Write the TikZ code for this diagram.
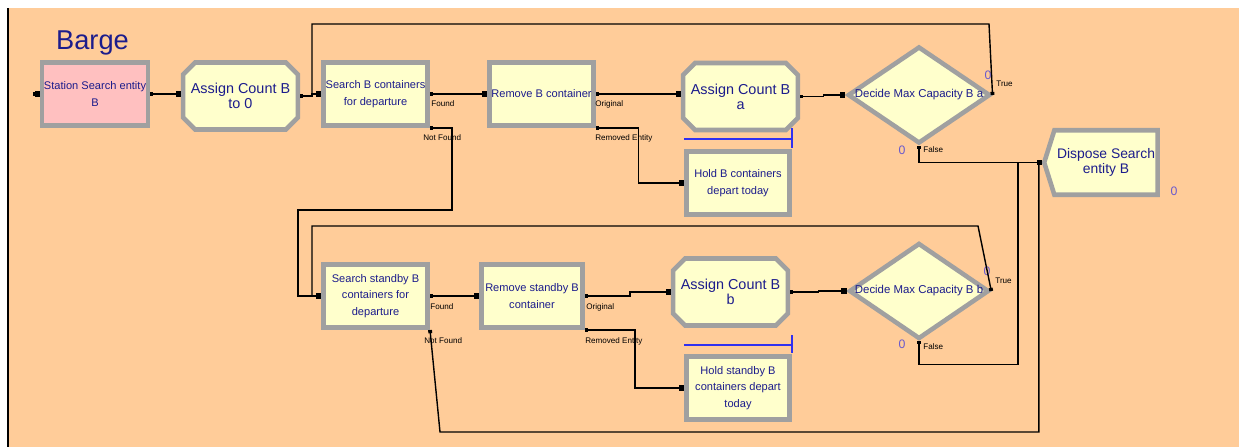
\documentclass[tikz,border=0pt]{standalone}
\usepackage{fontspec}
\setmainfont{Liberation Sans}
\usetikzlibrary{arrows.meta,shapes.geometric,shapes.misc,shapes.symbols,calc}
\definecolor{peach}{HTML}{FFCC99}
\definecolor{cream}{HTML}{FFFFCC}
\definecolor{rose}{HTML}{FFC0C0}
\definecolor{bevel}{HTML}{A0A0A0}
\definecolor{navy}{HTML}{1C1C8C}
\definecolor{cntc}{HTML}{6A5ACD}
\definecolor{queue}{HTML}{3030F0}

\begin{document}
\begin{tikzpicture}[x=0.02cm,y=-0.02cm,
  mod/.style={draw=bevel,line width=2.6pt,fill=cream,text=navy,align=center,inner sep=1pt,
              font=\fontsize{6.3}{9.4}\selectfont},
  proc/.style={mod,rectangle,minimum width=2.09cm,minimum height=1.27cm},
  asg/.style={mod,chamfered rectangle,chamfered rectangle xsep=0.12cm,
              chamfered rectangle ysep=0.12cm,minimum width=2.17cm,minimum height=1.34cm,
              font=\fontsize{8.2}{8.6}\selectfont},
  dec/.style={mod,diamond,minimum width=2.85cm,minimum height=1.94cm,inner sep=0pt},
  dtxt/.style={text=navy,font=\fontsize{6.5}{7}\selectfont,inner sep=0pt},
  port/.style={font=\fontsize{4.6}{5}\selectfont,text=black,inner sep=0pt,anchor=west},
  cnt/.style={font=\fontsize{7}{8}\selectfont,text=cntc,inner sep=0pt},
  conn/.style={line width=0.8pt,black,
               arrows={Square[length=1.8pt,width=2.2pt]-Square[length=3pt,width=3pt]}},
  que/.style={line width=0.9pt,queue}]
\useasboundingbox (0,0) rectangle (1239,447);
\fill[white] (0,0) rectangle (1239,447);
\fill[peach] (8,8) rectangle (1239,447);
\draw[line width=0.8pt] (8,8) -- (8,447);
% modules, upper row
\node[text=navy,font=\fontsize{15.5}{16}\selectfont] (title) at (92.5,43) {Barge};
\node[proc,fill=rose,minimum width=2.11cm] (station) at (95,94) {Station Search entity\\B};
\node[asg] (asg0) at (240.5,96) {Assign Count B\\to 0};
\node[proc] (srch) at (375.5,94) {Search B containers\\for departure};
\node[proc,minimum width=2.05cm] (rma) at (541.5,94) {Remove B container};
\node[asg] (asga) at (740.5,96.5) {Assign Count B\\a};
\node[proc,minimum width=2.07cm] (holda) at (738,183) {Hold B containers\\depart today};
\node[dec,label={[dtxt]center:Decide Max Capacity B a}] (deca) at (919,95) {};
\node[mod,signal,signal to=west,signal pointer angle=145,minimum width=2.27cm,
      minimum height=1.29cm,font=\fontsize{7.9}{8.5}\selectfont] (disp) at (1106,162.5)
  {Dispose Search\\entity B};
% modules, lower row
\node[proc] (srchs) at (375.5,296) {Search standby B\\containers for\\departure};
\node[proc,minimum width=2.03cm] (rms) at (532,296) {Remove standby B\\container};
\node[asg] (asgb) at (730.5,292) {Assign Count B\\b};
\node[proc,minimum width=2.07cm] (holdb) at (738,388) {Hold standby B\\containers depart\\today};
\node[dec,minimum width=2.8cm,minimum height=1.92cm,
      label={[dtxt]center:Decide Max Capacity B b}] (decb) at (919,291) {};
% exit labels and counters
\foreach \nm/\x/\y/\t in {fnda/431/104/Found, nfa/423/138/Not Found, orga/595/104/Original,
    rema/595/138/Removed Entity, trua/996/84/True, fala/923/150/False,
    fndb/430/307/Found, nfb/424/341/Not Found, orgb/586/307/Original,
    remb/585/341/Removed Entity, trub/995/281/True, falb/923/347/False}
  {\node[port] (\nm) at (\x,\y) {\t};}
\foreach \nm/\x/\y in {cta/988/75, cfa/902/150, ctb/987/271, cfb/902/344, cdisp/1174/191}
  {\node[cnt] (\nm) at (\x,\y) {0};}
% queues
\draw[que] (684,139) -- (792,139) (792,128) -- (792,148);
\draw[que] (684,345) -- (792,345) (792,335) -- (792,353);
% connectors
\coordinate (in0) at (36,94);
\coordinate (topa) at (989,24);
\coordinate (topb) at (312,24);
\coordinate (nfturn) at (298,210);
\coordinate (topc) at (978,226);
\coordinate (topd) at (312,226);
\coordinate (nfbot) at (440,432);
\draw[conn] (in0) -- (station.west);
\draw[conn] (station.east) -- (station.east -| asg0.west);
\draw[conn] (asg0.east) -- ++(12,0) |- (srch.west);
\draw[conn] (deca.east) -- (topa) -- (topb) |- (srch.west);
\draw[conn] (srch.east) -- (rma.west);
\draw[conn] (srch.south east) -- ++(22,0) |- (nfturn) |- (srchs.west);
\draw[conn] (rma.east) -- (rma.east -| asga.west);
\draw[conn] (rma.south east) -- ++(43,0) |- (holda.west);
\draw[conn] (asga.east) -- ++(23,0) |- (deca.west);
\draw[conn] (deca.south) |- (disp.west);
\draw[conn] (decb.south) -- ++(0,23) -| ($(disp.west)+(-24,0)$) -- (disp.west);
\draw[conn] (srchs.south east) -- (nfbot) -| ($(disp.west)+(-3,0)$) -- (disp.west);
\draw[conn] (srchs.east) -- (rms.west);
\draw[conn] (rms.east) -- ++(45,0) |- (asgb.west);
\draw[conn] (rms.south east) -- ++(50,0) |- (holdb.west);
\draw[conn] (asgb.east) -- ++(28,0) |- (decb.west);
\draw[conn] (decb.east) -- (topc) -- (topd) |- (srchs.west);
\end{tikzpicture}
\end{document}
